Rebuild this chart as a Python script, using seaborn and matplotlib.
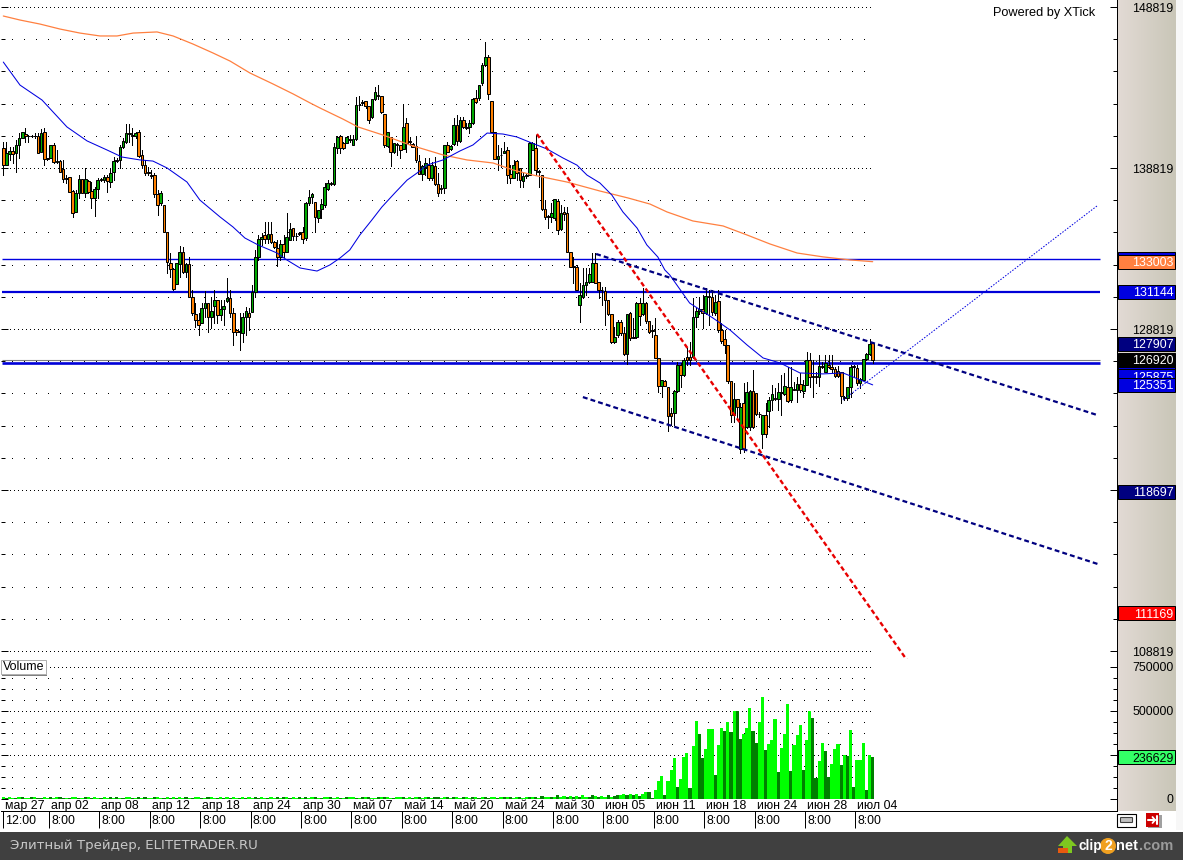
import numpy as np
import pandas as pd
import matplotlib
matplotlib.use('Agg')
import matplotlib.pyplot as plt
import seaborn as sns
from matplotlib.patches import Rectangle, Polygon, Circle, FancyBboxPatch
from matplotlib.colors import LinearSegmentedColormap

# candles, prices in thousands
opens = [
    140.04,139.00,139.69,139.90,139.73,140.25,140.70,140.91,140.83,140.83,
    140.83,140.80,139.83,141.03,139.42,139.42,140.25,139.17,139.25,138.76,
    138.18,138.24,137.41,136.11,137.24,138.11,137.24,137.99,137.41,136.98,
    137.49,138.13,138.07,138.24,137.97,138.59,139.32,139.32,140.14,140.45,
    140.97,140.87,140.83,141.03,139.60,138.98,138.55,138.32,138.40,137.20,
    136.62,136.50,134.87,132.94,132.53,131.59,132.86,133.62,132.38,132.86,
    130.83,129.75,129.38,129.21,130.10,130.42,129.59,130.27,130.62,129.69,
    130.04,130.54,130.72,129.79,128.76,128.68,128.55,129.55,129.83,129.90,
    131.14,133.27,134.39,134.66,134.39,134.70,134.24,133.83,133.27,134.10,
    133.62,134.35,135.07,134.62,134.78,
    134.87,134.45,136.67,137.00,136.73,135.74,136.25,136.52,137.50,137.91,
    137.83,140.04,140.81,140.39,140.35,140.54,140.27,140.60,142.75,142.90,
    142.96,142.67,141.97,143.08,143.33,143.29,142.15,140.19,140.73,139.83,
    140.29,140.25,139.98,141.59,140.47,140.29,140.20,139.25,138.45,138.86,
    139.00,138.22,138.94,137.83,137.58,137.56,140.23,139.98,140.29,141.47,
    140.52,141.80,141.39,141.35,141.63,143.15,143.19,144.08,145.20,145.69,
    143.00,141.08,139.36,139.65,139.77,139.94,138.43,138.18,139.28,138.80,
    138.03,138.36,138.39,139.94,140.04,138.61,138.36,136.25,135.82,135.80,
    135.69,136.79,135.01,136.11,136.00,133.62,132.71,132.69,
    130.31,130.83,131.56,131.72,131.76,132.94,131.72,131.26,131.20,130.62,
    129.73,128.04,128.45,129.28,128.55,127.25,129.80,128.33,128.31,130.42,
    129.75,130.42,129.32,128.74,128.43,127.00,125.28,125.61,125.20,123.59,
    123.63,124.99,126.57,125.97,127.06,127.06,127.06,129.59,129.92,130.04,
    129.80,130.87,130.79,129.84,130.56,128.76,128.18,127.85,125.57,123.50,
    124.45,121.35,124.21,122.76,122.72,124.99,124.87,123.56,122.28,123.48,
    123.75,124.41,124.54,124.45,124.89,124.79,125.24,124.41,125.10,125.03,
    125.39,124.99,125.34,126.90,125.88,125.88,125.82,126.50,126.17,126.59,
    126.48,126.32,126.21,126.17,124.60,124.52,125.24,126.50,126.38,125.45,
    125.66,126.94,127.27,127.97,
]
closes = [
    139.00,139.73,139.90,139.69,140.25,140.66,141.03,140.80,140.80,140.80,
    140.80,139.77,140.97,139.36,139.38,140.25,139.21,139.25,138.59,138.11,
    138.14,137.35,136.05,137.24,138.11,137.24,138.11,137.35,136.93,137.49,
    138.07,138.07,138.28,138.03,138.49,139.27,139.27,140.10,140.47,140.97,
    140.91,140.83,140.97,139.56,139.00,138.53,138.51,138.40,137.18,136.52,
    137.24,134.87,132.96,132.53,131.28,132.90,133.62,132.38,132.86,130.83,
    129.79,129.38,129.05,130.10,130.42,129.59,129.94,130.62,129.69,130.04,
    130.25,130.72,129.79,128.61,128.66,128.64,129.55,129.96,129.59,131.14,
    133.27,134.39,134.51,134.39,134.72,134.24,133.89,133.27,134.10,133.62,
    134.55,135.01,134.59,134.58,134.74,
    134.39,136.63,137.04,137.20,135.80,136.21,136.56,137.62,137.91,137.80,
    140.10,140.77,140.04,140.04,140.73,140.64,140.60,142.71,142.71,142.86,
    142.67,141.80,143.08,143.54,143.29,142.28,140.23,141.08,139.79,140.39,
    140.25,139.94,141.39,140.39,140.43,140.15,139.32,138.45,138.94,139.11,
    138.18,139.00,137.83,137.25,137.54,140.23,139.83,140.19,141.47,140.52,
    141.80,141.39,141.28,141.63,143.08,142.90,143.95,145.24,145.73,143.40,
    141.08,139.36,139.57,139.61,139.90,138.36,138.18,139.00,138.53,138.07,
    138.32,138.32,140.39,140.39,138.70,138.57,136.25,135.80,135.78,136.00,
    136.88,134.97,136.00,135.96,133.62,132.69,132.67,131.24,
    130.93,131.56,131.72,132.22,132.94,131.70,131.24,131.22,130.62,129.73,
    128.04,128.31,129.28,128.55,127.27,129.75,128.24,128.29,130.42,129.63,
    130.42,129.32,128.66,128.70,127.00,125.28,125.66,125.30,123.42,123.42,
    124.99,126.57,125.97,126.90,126.90,126.90,129.59,129.96,130.04,129.80,
    130.87,130.79,129.88,130.52,128.76,128.10,127.85,125.61,123.50,124.45,
    123.96,123.96,121.35,124.93,124.99,122.76,123.54,123.52,123.48,122.28,
    124.41,124.79,124.50,124.93,124.85,125.28,124.37,125.24,125.06,125.39,
    125.03,125.34,126.90,125.82,125.84,125.84,126.52,126.46,126.69,126.44,
    126.32,125.90,125.90,124.66,124.56,125.24,126.48,126.46,125.45,125.70,
    126.94,127.27,127.89,126.92,
]
highs = [
    140.45,140.45,140.14,140.14,140.56,140.97,141.07,141.28,140.87,140.87,
    140.97,140.97,141.22,141.28,139.46,140.25,140.35,139.94,139.32,139.32,
    138.38,138.24,137.45,137.45,138.38,138.11,138.80,138.07,137.97,137.66,
    138.18,138.18,138.38,138.38,138.80,139.52,139.42,140.25,140.66,141.55,
    141.55,141.28,141.07,141.18,139.94,139.32,138.90,138.70,138.49,137.45,
    137.41,136.50,134.87,133.52,132.59,132.90,133.97,133.93,132.90,133.27,
    131.24,130.42,129.79,130.42,131.20,130.42,130.83,131.24,130.62,130.62,
    130.62,131.97,131.24,130.10,128.80,129.79,129.79,130.21,130.10,131.55,
    133.73,134.66,134.76,135.49,135.49,135.49,134.30,134.35,134.35,134.66,
    136.00,135.38,135.07,134.76,134.87,
    135.18,136.73,137.45,137.25,136.73,136.21,136.92,137.87,138.07,137.97,
    140.35,140.81,140.87,140.45,140.81,140.87,140.87,143.25,143.29,143.04,
    143.00,142.67,143.08,143.83,143.97,143.29,142.15,141.08,140.73,140.39,
    140.35,140.25,142.80,141.91,140.77,140.35,140.81,139.63,139.00,139.42,
    139.42,139.21,139.52,138.49,137.76,140.25,140.45,140.25,141.91,142.11,
    141.97,142.01,141.59,141.80,143.15,143.67,143.97,145.32,146.67,145.84,
    143.00,141.08,140.25,140.04,140.45,140.10,139.00,139.32,139.32,138.80,
    138.49,138.49,140.45,140.45,140.87,138.70,138.39,136.83,135.90,136.63,
    136.92,136.92,136.52,136.42,136.42,133.62,133.32,132.80,
    131.66,132.59,132.59,132.59,133.52,133.52,131.72,131.45,131.45,130.62,
    129.73,128.93,129.38,129.38,128.97,129.75,129.90,129.49,130.52,130.73,
    131.35,130.52,129.32,129.07,129.49,127.00,125.66,125.66,125.24,123.90,
    125.03,126.79,126.69,127.00,127.62,128.04,130.73,130.11,130.83,130.93,
    131.35,131.24,131.24,130.93,131.24,129.17,128.76,127.85,125.57,125.45,
    124.45,124.21,125.45,125.55,125.03,126.28,124.87,123.69,123.48,124.21,
    124.62,125.34,125.14,125.45,125.97,126.07,126.48,126.48,125.55,125.86,
    126.07,125.66,127.42,127.31,126.90,126.17,127.21,126.79,127.21,127.21,
    127.21,126.48,126.52,126.17,124.66,125.24,126.59,126.59,126.59,125.76,
    126.94,127.31,128.18,128.04,
]
lows = [
    138.38,139.00,139.32,139.11,138.59,139.42,140.66,140.45,140.45,140.74,
    140.66,139.77,139.83,139.00,139.30,139.42,139.11,139.11,138.59,137.97,
    137.87,137.35,135.75,136.11,136.93,137.24,137.04,137.24,136.32,135.84,
    136.93,138.03,137.97,137.35,137.66,138.07,139.21,138.80,140.04,140.35,
    140.45,140.25,140.70,139.52,138.80,138.38,138.38,138.18,137.04,135.90,
    136.52,134.87,132.28,132.07,131.24,131.59,132.07,132.28,132.07,130.83,
    129.69,128.97,128.45,129.17,129.59,128.66,128.86,129.17,129.17,129.38,
    129.07,130.50,129.59,127.83,128.45,127.52,128.03,128.45,128.76,129.90,
    130.83,133.10,134.04,134.14,134.14,134.18,133.85,132.75,133.10,133.31,
    133.62,134.35,134.35,134.35,134.66,
    134.14,134.35,136.52,136.63,134.83,135.49,135.69,136.42,137.45,137.76,
    137.76,139.73,139.73,139.98,140.35,140.45,140.25,140.56,142.42,142.73,
    142.53,141.59,141.91,143.04,143.08,142.22,140.15,140.15,138.97,139.73,
    139.63,139.42,139.98,139.83,140.25,140.10,139.21,138.45,138.07,138.39,
    138.07,138.07,137.76,137.10,137.25,137.25,139.83,139.94,140.25,140.25,
    140.45,141.28,141.24,140.97,141.55,142.83,143.04,143.97,145.18,143.08,
    141.08,139.36,138.70,138.90,139.77,137.87,137.87,138.18,138.07,137.66,
    137.66,138.18,138.39,139.94,138.39,137.66,136.21,135.63,135.07,135.49,
    135.59,134.72,134.97,135.59,133.62,132.69,131.66,131.24,
    129.28,130.73,130.93,131.66,131.72,131.66,130.73,130.31,129.07,129.69,
    127.93,127.93,128.35,128.45,127.21,126.65,128.14,128.24,128.24,129.07,
    129.69,129.22,128.55,128.35,127.00,124.93,124.62,125.30,122.51,122.86,
    122.86,124.93,125.24,125.90,126.59,126.59,127.00,128.93,129.75,128.86,
    129.75,129.07,129.69,129.69,128.66,127.93,127.31,125.45,123.07,123.07,
    123.17,121.10,121.20,122.65,122.55,122.65,123.48,123.38,121.41,122.14,
    122.76,123.79,124.41,123.79,123.48,124.72,124.31,124.31,125.03,124.31,
    124.93,124.62,125.34,125.24,124.62,125.45,125.28,126.38,126.17,126.38,
    126.17,125.86,125.86,124.21,124.41,124.41,124.62,125.86,125.34,125.14,
    125.66,126.90,127.21,126.69,
]

# volume, thousands (flat start then the june build up)
volume_early = [
    9,7,10,8,6,9,11,8,7,9,10,8,6,9,
    8,10,7,9,11,7,8,6,10,9,7,8,10,9,
    7,9,8,6,10,8,9,7,11,8,6,9,10,7,
    8,9,7,10,6,8,9,11,7,8,10,6,9,8,
    10,7,9,8,6,9,10,8,7,11,9,6,8,10,
    7,9,8,10,7,6,9,8,11,7,9,8,10,6,
    8,9,7,10,8,13,9,7,11,8,10,6,9,8,
    10,12,8,7,14,10,9,7,12,8,6,10,9,11,
    8,7,10,9,12,7,8,11,9,14,10,8,7,12,
    9,11,8,10,7,12,9,8,13,10,7,9,11,8,
    12,9,7,10,14,8,9,11,7,12,10,8,9,13,
    7,10,12,8,9,11,14,10,8,12,9,7,13,10,
    9,12,8,16,11,14,9,13,20,12,15,10,18,13,
    16,11,20,14,12,25,16,10,18,14,22,12,17,24,
]
volume_late = [
    21,27,21,27,21,30,15,27,38,38,8,
    49,100,129,21,100,163,231,
    66,112,239,259,61,299,441,
    367,231,282,396,400,134,
    305,402,384,436,379,498,498,
    339,367,402,515,384,316,436,
    578,277,311,333,453,152,
    288,367,538,157,305,362,419,
    163,333,498,458,117,214,316,271,123,
    197,282,311,191,
    248,242,390,66,220,220,316,
    49,248,237,
]
kind_early = (
    "LDLLDLDLLDLDDL" "LDLLDDLDLLDLDL" "DLLDLLDLDLDLLD" "LDLDLLDLLDLDLD"
    "LLDLDLLDLDLLDL" "DLDLLDLDLLDDLL" "DLLDLDLDLLDLDL" "LDLDLLDLLDLDLL"
    "DLDLDLLDLDLLDL" "LDLLDLDLLDLDDL" "LDLDLLDLLDLDLD" "DLLDLDLDLLDLLD"
    "LDLDLLDLDLLDLD" "LDLLDDLDLLDLDD"
)
kind_late = (
    "LLDLDLDLLDD" "LLLDLLL" "DLLLDLL" "DDLLLD" "LLDLDLD" "DLLLDDL" "LDLLLD"
    "LLLDLLL" "DLLDDLLDD" "LLLD" "LDLDLLL" "DLD"
)

# moving averages read at the bends: (bar number, price in thousands)
orange_x = [0,5.3,11.65,18,24.35,30.7,36.1,41.2,48.8,53.9,60.2,66.6,72,78.3,85.6,92,97.4,
            100.5,107.8,112.6,120.5,129.1,139.6,147.2,155.5,161.8,168.2,178.9,189.4,198.3,205.3,
            210.7,218.9,228.5,236.1,243.4,252,260.2,268.8,276]
orange_y = [148.26,148.01,147.76,147.45,147.20,147.02,147.02,147.20,147.27,147.02,146.52,145.96,145.46,
            144.72,144.04,143.42,142.86,142.55,141.86,141.37,140.87,140.25,139.63,139.32,139.13,138.70,
            138.38,137.95,137.39,136.96,136.58,136.09,135.53,135.22,134.66,134.10,133.54,133.30,133.11,133.00]
blue_x = [0,5.3,12.3,15.8,20.2,26.6,32.9,37.7,43.4,47.5,52,58.3,62.4,68.8,72.9,76.7,80.9,86.9,90,94.2,
          99.6,103.7,106.9,110,113.2,117,120.2,124.3,128.2,131.3,134.5,139.6,145,149.1,153.6,158.6,
          163,167.8,172.6,177.7,182.1,185.3,189.4,193.2,196.7,201.2,204.3,207.8,210,211.6,217.9,225.3,230.7,
          236.1,241.2,246.6,252.9,260.2,266.6,272,276]
blue_y = [145.40,143.97,143.04,142.30,141.37,140.50,139.94,139.50,139.32,139.25,138.82,137.95,136.83,
          135.78,135.16,134.47,134.04,133.54,133.11,132.61,132.42,132.80,133.23,133.73,134.66,135.59,
          136.40,137.27,138.07,138.50,139.00,139.32,139.88,140.25,140.99,140.93,140.75,140.37,140.00,
          139.44,139.00,138.38,137.89,137.14,136.09,135.09,134.04,133.29,132.49,132.17,130.43,129.50,128.76,127.83,
          127.02,126.71,126.09,126.03,126.09,125.66,125.35]

# hand drawn trend lines
red_x, red_y = [169.4, 288.5], [140.93, 107.8]
navy_top_x, navy_top_y = [188.2, 347.2], [133.48, 123.48]
navy_low_x, navy_low_y = [184, 347.5], [124.59, 114.22]
thin_x, thin_y = [266.6, 347.2], [124.41, 136.46]

level_thin = 133.17
level_mid = 131.144
level_gray = 126.92
level_thick = 126.70

price_labels = [148819, 138819, 128819, 118819, 108819]
volume_labels = [750000, 500000, 0]

# side tags, in drawing order; the first one sits fully behind the orange tag's text
price_tags = [133170, 133003, 131144, 126700, 127907, 126920, 125875, 125351, 118697, 111169]
tag_colors = ['#0000e0', '#ff8040', '#0000e0', '#0000e0', '#000080', '#000000', '#0000e0', '#0000e0', '#000080', '#ff0000']
volume_tag = 236629

date_labels = ['мар 27','апр 02','апр 08','апр 12','апр 18','апр 24','апр 30','май 07','май 14',
               'май 20','май 24','май 30','июн 05','июн 11','июн 18','июн 24','июн 28','июл 04']
time_labels = ['12:00'] + ['8:00'] * 17
time_ticks = [0] + [14.5 + 16 * k for k in range(17)]

assert len(opens) == len(closes) == len(highs) == len(lows) == 277
assert len(volume_early) + len(volume_late) == 277
assert len(kind_early) + len(kind_late) == 277
assert len(orange_x) == len(orange_y) and len(blue_x) == len(blue_y)

W, H = 1183, 860
sns.set_theme(style='white')
plt.rcParams['font.family'] = ['Liberation Sans', 'DejaVu Sans']
plt.rcParams['axes.linewidth'] = 0.72
FS = 8.9
PX = 0.72


def box(l, t, r, b):
    return [l / W, 1 - b / H, (r - l) / W, (b - t) / H]


fig = plt.figure(figsize=(W / 100, H / 100), dpi=100, facecolor='white')
ax = fig.add_axes(box(1, 0, 1117, 659))
ax_vol = fig.add_axes(box(1, 659, 1117, 811))

x_min, x_max = -0.73, 353.56
price_lim = (108.323, 149.254)
vol_lim = (-68182, 795454)

idx = np.arange(277)
o, c, h, l = map(np.array, (opens, closes, highs, lows))
up = c > o

# grid rows
rows = np.arange(108.819, 149.0, 2.0)
majors = [p / 1000 for p in price_labels]
minors = [r for r in rows if min(abs(r - m) for m in majors) > 0.01]
ax.hlines(minors, 2.76, 275, colors='black', linewidth=PX, linestyles=[(0, (1, 11.5))], zorder=1, antialiased=False)
ax.hlines(majors, 2, 276, colors='black', linewidth=PX, linestyles=[(0, (1, 3))], zorder=1, antialiased=False)

# levels
ax.hlines(level_thin, -0.4, 348.1, colors='#0000e0', linewidth=1.0, zorder=2)
ax.hlines(level_mid, -0.4, 348.1, colors='#0000d8', linewidth=1.6, zorder=2)
ax.hlines(level_gray, -0.4, 348.1, colors='#808080', linewidth=0.8, zorder=2)
ax.hlines(level_thick, -0.4, 348.1, colors='#0000d8', linewidth=1.9, zorder=2)

# candles
ax.vlines(idx, l, h, colors='black', linewidth=PX, zorder=3, antialiased=False)
ax.bar(idx[up], (c - o)[up], bottom=o[up], width=0.85, color='#00a800', edgecolor='black', linewidth=PX, zorder=4)
ax.bar(idx[~up], (o - c)[~up], bottom=c[~up], width=0.85, color='#ff8000', edgecolor='black', linewidth=PX, zorder=4)

sns.lineplot(x=orange_x, y=orange_y, ax=ax, color='#ff8040', linewidth=0.9, estimator=None, sort=False, zorder=5)
sns.lineplot(x=blue_x, y=blue_y, ax=ax, color='#0000e0', linewidth=0.75, estimator=None, sort=False, zorder=5)
sns.lineplot(x=red_x, y=red_y, ax=ax, color='#e80000', linewidth=1.7, linestyle=(0, (2.0, 1.2)), estimator=None, zorder=6)
sns.lineplot(x=navy_top_x, y=navy_top_y, ax=ax, color='#000080', linewidth=1.6, linestyle=(0, (2.2, 1.4)), estimator=None, zorder=6)
sns.lineplot(x=navy_low_x, y=navy_low_y, ax=ax, color='#000080', linewidth=1.6, linestyle=(0, (2.2, 1.4)), estimator=None, zorder=6)
sns.lineplot(x=thin_x, y=thin_y, ax=ax, color='#0000e0', linewidth=0.72, linestyle=(0, (1.5, 1.5)), estimator=None, zorder=6)

ax.set_xlim(x_min, x_max)
ax.set_ylim(*price_lim)
ax.set_xticks([])
ax.set_yticks(majors)
ax.set_yticks(minors, minor=True)
ax.set_yticklabels([])
ax.tick_params(axis='y', which='major', left=True, right=True, direction='in', length=5, width=PX, color='black')
ax.tick_params(axis='y', which='minor', left=True, right=True, direction='in', length=3, width=PX, color='black')
ax.set_xlabel('')
ax.set_ylabel('')
for s in ('top', 'left'):
    ax.spines[s].set_visible(False)
for s in ('right', 'bottom'):
    ax.spines[s].set_color('black')

# volume
vol_df = pd.DataFrame({
    'bar': idx,
    'volume': [v * 1000 for v in volume_early + volume_late],
    'kind': list(kind_early + kind_late),
})
vol_major = [250000, 500000, 750000]
vol_rows = np.arange(62500, 750001, 62500)
vol_minor = [r for r in vol_rows if r not in vol_major]
ax_vol.hlines(vol_minor, 2.76, 275, colors='black', linewidth=PX, linestyles=[(0, (1, 11.5))], zorder=1, antialiased=False)
ax_vol.hlines(vol_major, 2, 276, colors='black', linewidth=PX, linestyles=[(0, (1, 3))], zorder=1, antialiased=False)
sns.barplot(data=vol_df, x='bar', y='volume', hue='kind', palette={'L': '#00ff00', 'D': '#008000'},
            native_scale=True, dodge=False, width=1, saturation=1, legend=False, linewidth=0,
            errorbar=None, ax=ax_vol, zorder=3)
ax_vol.set_xlim(x_min, x_max)
ax_vol.set_ylim(*vol_lim)
ax_vol.set_xticks([])
ax_vol.set_yticks(vol_major + [0])
ax_vol.set_yticks(vol_minor, minor=True)
ax_vol.set_yticklabels([])
ax_vol.tick_params(axis='y', which='major', left=True, right=True, direction='in', length=5, width=PX, color='black')
ax_vol.tick_params(axis='y', which='minor', left=True, right=True, direction='in', length=3, width=PX, color='black')
ax_vol.set_xlabel('')
ax_vol.set_ylabel('')
for s in ('top', 'left'):
    ax_vol.spines[s].set_visible(False)
for s in ('right', 'bottom'):
    ax_vol.spines[s].set_color('black')

# dates under the bars
for t, lab in zip(time_ticks, date_labels):
    ax_vol.annotate(lab, xy=(t, 0), xytext=(1.4, -5.2), textcoords='offset points',
                    fontsize=FS, color='black', ha='left', va='center', annotation_clip=False)

# time strip
ax_time = fig.add_axes(box(1, 811, 1117, 830))
ax_time.set_xlim(x_min, x_max)
ax_time.set_ylim(0, 1)
ax_time.set_axis_off()
ax_time.vlines(time_ticks, 0.12, 1, colors='black', linewidth=PX)
for t, lab in zip(time_ticks, time_labels):
    ax_time.annotate(lab, xy=(t, 0.47), xytext=(1.5, 0), textcoords='offset points',
                     fontsize=FS, color='black', ha='left', va='center')

# right hand price strip
strip = LinearSegmentedColormap.from_list('strip', ['#e2dad4', '#c9c6b8'])
grad = np.linspace(0, 1, 64).reshape(1, -1)


def make_side(t, b, lim):
    s = fig.add_axes(box(1118, t, 1176, b))
    s.imshow(grad, aspect='auto', cmap=strip, extent=[0, 1, lim[0], lim[1]], zorder=0)
    s.set_xlim(0, 1)
    s.set_ylim(*lim)
    s.set_axis_off()
    return s


side = make_side(0, 659, price_lim)
side_vol = make_side(659, 811, vol_lim)


def tag(s, y, hgt, text, fc, tc, z):
    s.add_patch(Rectangle((0.0, y - hgt / 2), 0.985, hgt, facecolor=fc, edgecolor='black', linewidth=PX, zorder=z))
    if text:
        s.text(0.955, y, text, ha='right', va='center_baseline', fontsize=FS, color=tc, zorder=z + 0.5)


for p in price_labels:
    side.text(0.955, p / 1000, str(p), ha='right', va='center_baseline', fontsize=FS, color='black', zorder=2)
for n, (p, col) in enumerate(zip(price_tags, tag_colors)):
    # 133170 is covered by the orange tag, only its top edge shows
    tag(side, p / 1000, 0.87, '' if n == 0 else str(p), col, 'white', 3 + n)
for v in volume_labels:
    side_vol.text(0.955, v, str(v), ha='right', va='center_baseline', fontsize=FS, color='black', zorder=2)
tag(side_vol, volume_tag, 80000, str(volume_tag), '#33ff66', 'black', 3)

# page furniture in pixel coordinates
over = fig.add_axes([0, 0, 1, 1], zorder=20)
over.set_xlim(0, W)
over.set_ylim(H, 0)
over.set_axis_off()
over.add_patch(Rectangle((1176, 0), 7, 830, facecolor='#f7f7f7', edgecolor='none'))
over.add_patch(Rectangle((0, 832), W, 28, facecolor='#404040', edgecolor='none'))
over.text(1095, 13, 'Powered by XTick', ha='right', va='center', fontsize=9.2, color='black')

over.add_patch(Rectangle((2.5, 662), 45, 14, facecolor='#808080', edgecolor='none'))
over.add_patch(Rectangle((1, 660), 45, 14, facecolor='white', edgecolor='#b0b0b0', linewidth=PX))
over.text(3, 667, 'Volume', ha='left', va='center', fontsize=FS, color='black')

over.text(10, 846, 'Элитный Трейдер, ELITETRADER.RU', ha='left', va='center', fontsize=9.65,
          color='#c8c8c8', family=['DejaVu Sans'])

# clip2net logo
over.add_patch(Polygon([(1067, 836), (1077, 846), (1072, 846), (1072, 853), (1063, 853), (1063, 846), (1058, 846)],
                       facecolor='#7ec820', edgecolor='none'))
over.add_patch(Rectangle((1058, 848), 10, 5, facecolor='#e85a10', edgecolor='none'))
over.text(1079, 846, 'clip', ha='left', va='center', fontsize=9.8, fontweight='bold', color='white')
over.add_patch(Circle((1108, 846), 8, facecolor='#f0a020', edgecolor='none'))
over.text(1108, 846, '2', ha='center', va='center', fontsize=10, fontweight='bold', color='white')
over.text(1116.5, 846, 'net', ha='left', va='center', fontsize=10.5, fontweight='bold', color='white')
over.text(1139, 846, '.com', ha='left', va='center', fontsize=10.5, fontweight='bold', color='#9a9a9a')

# link + jump buttons
over.add_patch(Rectangle((1117, 813.5), 19.5, 13.5, facecolor='white', edgecolor='black', linewidth=0.8))
over.add_patch(FancyBboxPatch((1121, 818), 11, 4, boxstyle='round,pad=0.5', facecolor='#c0c0c0',
                              edgecolor='#404040', linewidth=0.8))
over.add_patch(Rectangle((1148, 814.5), 14, 13.5, facecolor='#a0a0a0', edgecolor='none'))
over.add_patch(Rectangle((1146, 813), 13.5, 13.5, facecolor='#cc0000', edgecolor='none'))
over.plot([1148.5, 1155], [820, 820], color='white', lw=1.5)
over.plot([1152.5, 1155, 1152.5], [817, 820, 823], color='white', lw=1.3)
over.plot([1157, 1157], [816, 824], color='white', lw=1.5)
over.set_xlim(0, W)
over.set_ylim(H, 0)

fig.savefig('out.png', dpi=100, facecolor='white')
